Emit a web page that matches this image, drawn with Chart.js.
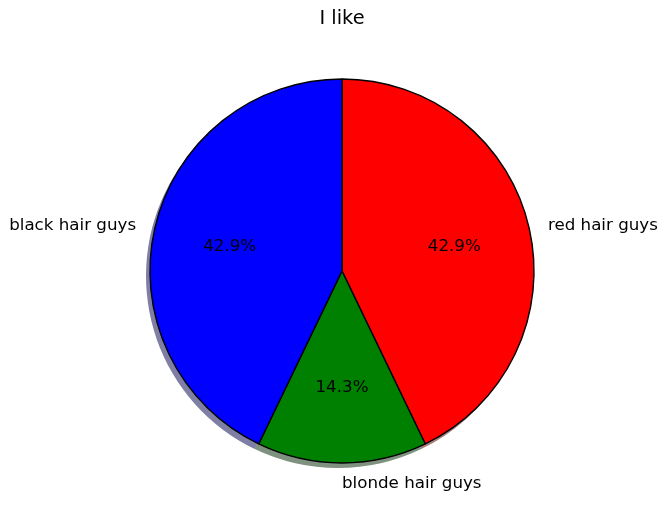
<!DOCTYPE html>
<html>
<head>
<meta charset="utf-8">
<script src="https://cdn.jsdelivr.net/npm/chart.js@4"></script>
<style>
  html, body { margin: 0; padding: 0; background: #fff; }
  #wrap { width: 666px; height: 521px; }
</style>
</head>
<body>
<div id="wrap"><canvas id="pieChart"></canvas></div>
<script>
// data (clockwise from the top, as Chart.js draws it)
const labels = ["red hair guys", "blonde hair guys", "black hair guys"];
const values = [3, 1, 3];
const colors = ["rgb(255, 0, 0)", "rgb(0, 128, 0)", "rgb(0, 0, 255)"];
const shadowColors = ["rgba(77, 0, 0, 0.5)", "rgba(0, 38, 0, 0.5)", "rgba(0, 0, 77, 0.5)"];
const chartTitle = "I like";

const FONT = "'DejaVu Sans', sans-serif";

// shadow under each slice + text labels, like matplotlib's pie
const pieDecor = {
  id: "pieDecor",
  beforeDatasetsDraw(chart) {
    const ctx = chart.ctx;
    const arcs = chart.getDatasetMeta(0).data;
    ctx.save();
    arcs.forEach((arc, i) => {
      ctx.beginPath();
      ctx.moveTo(arc.x - 4, arc.y + 5);
      ctx.arc(arc.x - 4, arc.y + 5, arc.outerRadius, arc.startAngle, arc.endAngle);
      ctx.closePath();
      ctx.fillStyle = shadowColors[i];
      ctx.fill();
    });
    ctx.restore();
  },
  afterDatasetsDraw(chart) {
    const ctx = chart.ctx;
    const arcs = chart.getDatasetMeta(0).data;
    const total = values.reduce((a, b) => a + b, 0);
    ctx.save();
    ctx.fillStyle = "#000";
    ctx.font = "16.7px " + FONT;
    ctx.textBaseline = "middle";
    arcs.forEach((arc, i) => {
      const mid = (arc.startAngle + arc.endAngle) / 2;
      const r = arc.outerRadius;
      const c = Math.cos(mid), s = Math.sin(mid);
      // outer label
      ctx.textAlign = c > -1e-9 ? "left" : "right";
      ctx.fillText(labels[i], arc.x + 1.1 * r * c, arc.y + 1.1 * r * s + 1.5);
      // percentage
      ctx.textAlign = "center";
      const pct = (values[i] / total * 100).toFixed(1) + "%";
      ctx.fillText(pct, arc.x + 0.6 * r * c, arc.y + 0.6 * r * s + 1.5);
    });
    // title
    ctx.font = "19.4px " + FONT;
    ctx.textAlign = "center";
    ctx.fillText(chartTitle, 342, 19);
    ctx.restore();
  },
};

new Chart(document.getElementById("pieChart"), {
  type: "pie",
  data: {
    labels,
    datasets: [
      {
        data: values,
        backgroundColor: colors,
        borderColor: "#000",
        borderWidth: 1.4,
        hoverOffset: 0,
      },
    ],
  },
  options: {
    responsive: true,
    maintainAspectRatio: false,
    animation: false,
    events: [],
    radius: 192,
    layout: { padding: { left: 18, right: 0, top: 21, bottom: 0 } },
    plugins: {
      legend: { display: false },
      tooltip: { enabled: false },
      title: { display: false },
    },
  },
  plugins: [pieDecor],
});
</script>
</body>
</html>
